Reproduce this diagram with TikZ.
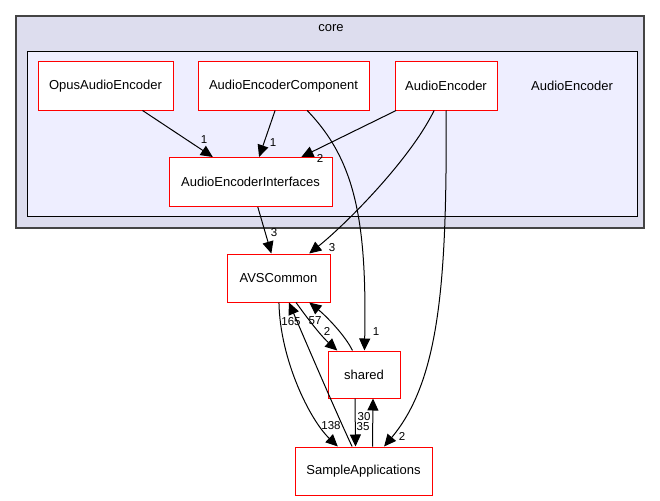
\documentclass[tikz,border=0pt]{standalone}
\usepackage{fontspec}
\setmainfont{Liberation Sans}
\usetikzlibrary{arrows.meta}
\definecolor{clusterbg}{HTML}{DDDDEE}
\definecolor{innerbg}{HTML}{EEEEFF}
\definecolor{clusterline}{HTML}{444444}

\begin{document}
\begin{tikzpicture}[x=1pt,y=-1pt,
	dir/.style={draw=red,fill=white,line width=1pt,minimum height=48pt,inner sep=0pt,font=\fontsize{13}{15}\selectfont},
	dep/.style={-{Triangle[length=12pt,width=11pt]},line width=1pt},
	lbl/.style={font=\fontsize{11.5}{13}\selectfont,inner sep=0pt}]
	\useasboundingbox (0,0) rectangle (660,500);
	\draw [clusterline,fill=clusterbg,line width=1.5pt](16,16) rectangle (644,228);
	\node [font=\fontsize{13}{15}\selectfont] (core) at (331,28) {core};
	\draw [black,fill=innerbg,line width=1pt](27,52) rectangle (637,216);
	\node [font=\fontsize{13}{15}\selectfont] (aelabel) at (572,86) {AudioEncoder};
	\node [dir,minimum width=135pt] (opus) at (105.5,86) {OpusAudioEncoder};
	\node [dir,minimum width=171pt] (comp) at (283.5,86) {AudioEncoderComponent};
	\node [dir,minimum width=102pt] (ae) at (446,86) {AudioEncoder};
	\node [dir,minimum width=163pt,minimum height=49pt] (intf) at (250.5,182) {AudioEncoderInterfaces};
	\node [dir,minimum width=103pt] (avs) at (278.5,278) {AVSCommon};
	\node [dir,minimum width=72pt,minimum height=47pt] (shared) at (364,374.5) {shared};
	\node [dir,minimum width=137pt] (sample) at (363.5,471) {SampleApplications};
	% inside AudioEncoder
	\draw [dep](opus)--(intf) node [lbl] at (204,140) {1};
	\draw [dep](comp)--(intf) node [lbl] at (273,143) {1};
	\draw [dep](ae)--(intf) node [lbl] at (320,158) {2};
	\draw [dep](intf)--(avs) node [lbl] at (274,233) {3};
	\draw [dep](ae) .. controls (410,160) and (345,225) .. (avs) node [lbl] at (332,248) {3};
	\draw [dep](comp) .. controls (355,160) and (367,220) .. (shared) node [lbl] at (376,332) {1};
	\draw [dep](ae) .. controls (447,280) and (440,380) .. (sample) node [lbl] at (402,436) {2};
	% below
	\draw [dep](avs) .. controls (305,315) and (320,335) .. (shared) node [lbl] at (327,331) {2};
	\draw [dep](shared) .. controls (345,335) and (325,315) .. (avs) node [lbl] at (315,321) {57};
	\draw [dep](avs) .. controls (280,360) and (310,420) .. (sample) node [lbl] at (331,426) {138};
	\draw [dep](sample) .. controls (335,410) and (305,340) .. (avs) node [lbl] at (291,322) {165};
	\draw [dep]([xshift=-9pt]shared.south)--([xshift=-8pt]sample.north) node [lbl] at (363,427) {35};
	\draw [dep]([xshift=9pt]sample.north)--([xshift=9pt]shared.south) node [lbl] at (364,417) {30};
\end{tikzpicture}
\end{document}
